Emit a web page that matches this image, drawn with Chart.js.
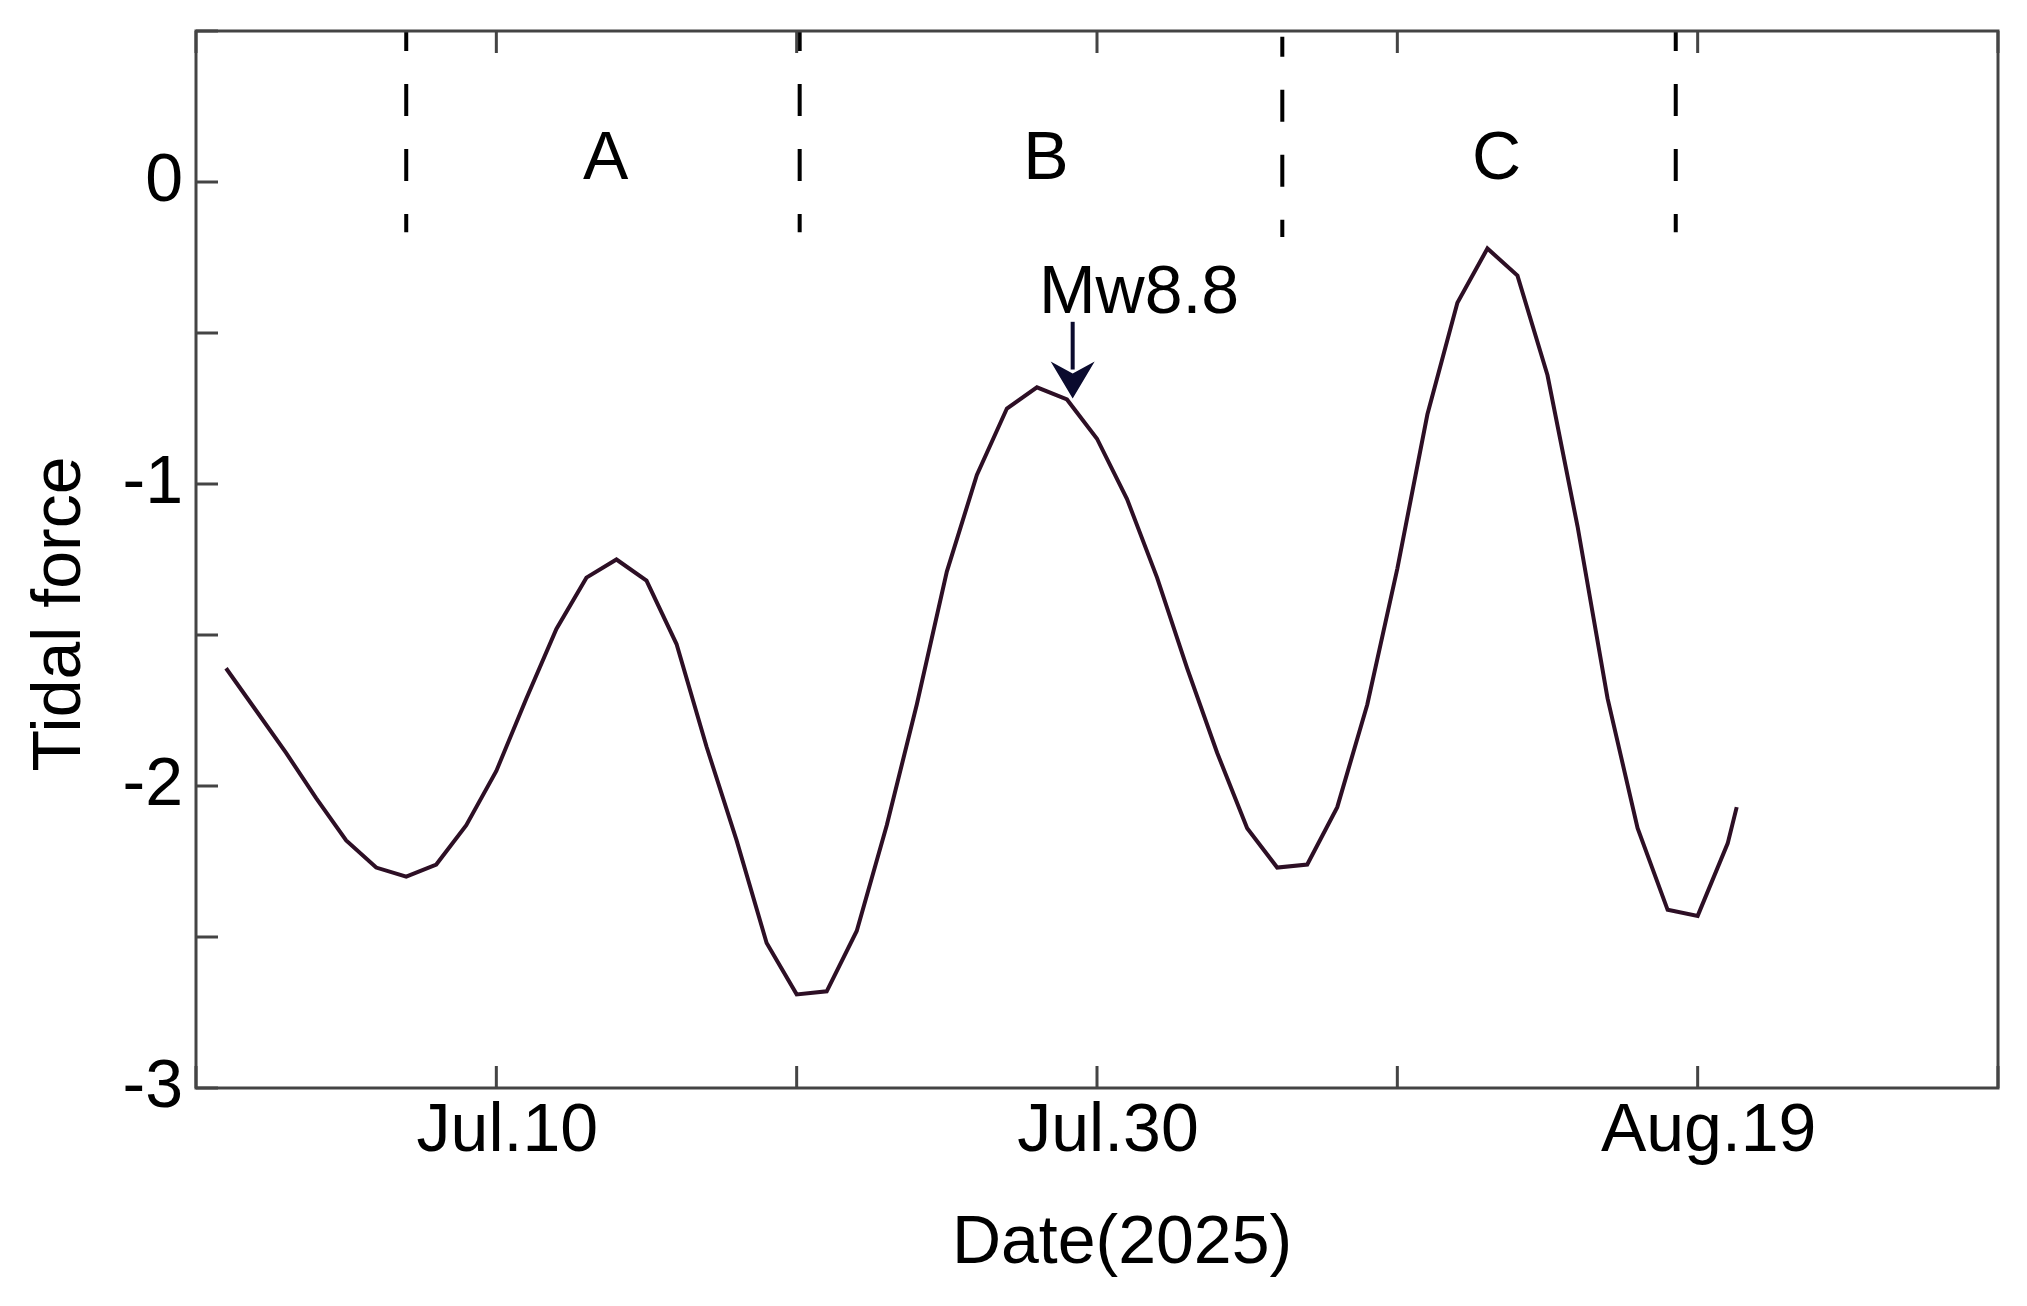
<!DOCTYPE html>
<html lang="en">

<head>
    <meta charset="UTF-8">
    <title>Tidal force, Jul-Aug 2025</title>
    <script src="https://cdn.jsdelivr.net/npm/chart.js"></script>
    <style>
        body {
            margin: 0;
            background: #ffffff;
            overflow: hidden;
        }

        #tideChart {
            display: block;
        }
    </style>
</head>

<body>
    <canvas id="tideChart" width="2027" height="1306"></canvas>

    <script>
        // day 0 = Jun.30, day 10 = Jul.10, day 50 = Aug.19
        const days = [1, 2, 3, 4, 5, 6, 7, 8, 9, 10,
            11, 12, 13, 14, 15, 16, 17, 18, 19, 20,
            21, 22, 23, 24, 25, 26, 27, 28, 29, 30,
            31, 32, 33, 34, 35, 36, 37, 38, 39, 40,
            41, 42, 43, 44, 45, 46, 47, 48, 49, 50,
            51, 51.3];
        const tidalForce = [-1.61, -1.75, -1.89, -2.04, -2.18, -2.27, -2.30, -2.26, -2.13, -1.95,
            -1.71, -1.48, -1.31, -1.25, -1.32, -1.53, -1.87, -2.18, -2.52, -2.69,
            -2.68, -2.48, -2.13, -1.73, -1.29, -0.97, -0.75, -0.68, -0.72, -0.85,
            -1.05, -1.31, -1.61, -1.89, -2.14, -2.27, -2.26, -2.07, -1.73, -1.28,
            -0.77, -0.40, -0.22, -0.31, -0.64, -1.14, -1.71, -2.14, -2.41, -2.43,
            -2.19, -2.07];

        const tickDays = [10, 30, 50];
        const tickLabels = ['Jul.10', 'Jul.30', 'Aug.19'];
        const yTickLabels = [0, -1, -2, -3];

        // dashed period boundaries
        const boundaryDays = [7.0, 20.1, 36.17, 49.27];
        const boundaryTop = [0.5, 0.5, 0.481, 0.5];
        const boundaryBottom = [-0.166, -0.166, -0.182, -0.166];

        const periodLabels = ['A', 'B', 'C'];
        const periodDays = [13.64, 28.3, 43.3];
        const periodBaseline = 0.011;

        const quakeText = 'Mw8.8';
        const quakeDay = 29.19;
        const quakeTextDay = 31.4;
        const quakeTextBaseline = -0.435;
        const arrowFrom = -0.463;
        const arrowTo = -0.717;

        const FONT = "'Liberation Sans', Arial, sans-serif";
        const AXIS_COLOR = '#444444';

        const boundarySets = boundaryDays.map((d, i) => ({
            data: [{ x: d, y: boundaryTop[i] }, { x: d, y: boundaryBottom[i] }],
            borderColor: '#000000',
            borderWidth: 4,
            borderDash: [32, 33],
            borderDashOffset: 12,
            pointRadius: 0,
            fill: false
        }));

        const framePlugin = {
            id: 'frame',
            afterDatasetsDraw(chart) {
                const { ctx, chartArea: a, scales: { x, y } } = chart;
                ctx.save();

                // period letters
                ctx.fillStyle = '#000000';
                ctx.font = `68px ${FONT}`;
                ctx.textAlign = 'center';
                ctx.textBaseline = 'alphabetic';
                periodLabels.forEach((t, i) => {
                    ctx.fillText(t, x.getPixelForValue(periodDays[i]), y.getPixelForValue(periodBaseline));
                });
                ctx.fillText(quakeText, x.getPixelForValue(quakeTextDay), y.getPixelForValue(quakeTextBaseline));

                // earthquake arrow
                const ax = x.getPixelForValue(quakeDay);
                const y0 = y.getPixelForValue(arrowFrom);
                const y1 = y.getPixelForValue(arrowTo);
                const headLen = 37, headHalf = 22;
                ctx.strokeStyle = '#0b0b2e';
                ctx.fillStyle = '#0b0b2e';
                ctx.lineWidth = 4;
                ctx.beginPath();
                ctx.moveTo(ax, y0);
                ctx.lineTo(ax, y1 - headLen + 8);
                ctx.stroke();
                ctx.beginPath();
                ctx.moveTo(ax, y1);
                ctx.lineTo(ax - headHalf, y1 - headLen);
                ctx.lineTo(ax, y1 - headLen + 12);
                ctx.lineTo(ax + headHalf, y1 - headLen);
                ctx.closePath();
                ctx.fill();

                // box and inward ticks
                ctx.strokeStyle = AXIS_COLOR;
                ctx.lineWidth = 3;
                ctx.strokeRect(a.left, a.top, a.right - a.left, a.bottom - a.top);
                ctx.beginPath();
                x.ticks.forEach(t => {
                    const px = x.getPixelForValue(t.value);
                    ctx.moveTo(px, a.bottom);
                    ctx.lineTo(px, a.bottom - 22);
                    ctx.moveTo(px, a.top);
                    ctx.lineTo(px, a.top + 22);
                });
                y.ticks.forEach(t => {
                    const py = y.getPixelForValue(t.value);
                    ctx.moveTo(a.left, py);
                    ctx.lineTo(a.left + 22, py);
                });
                ctx.stroke();

                // axis titles
                ctx.fillStyle = '#000000';
                ctx.font = `68px ${FONT}`;
                ctx.textAlign = 'center';
                ctx.textBaseline = 'alphabetic';
                ctx.fillText('Date(2025)', a.left + 926, 1263);
                ctx.translate(80, 614);
                ctx.rotate(-Math.PI / 2);
                ctx.fillText('Tidal force', 0, 0);
                ctx.restore();
            }
        };

        new Chart(document.getElementById('tideChart'), {
            type: 'line',
            data: {
                datasets: [{
                    data: days.map((d, i) => ({ x: d, y: tidalForce[i] })),
                    borderColor: '#2d0f25',
                    borderWidth: 4,
                    pointRadius: 0,
                    tension: 0,
                    fill: false
                }, ...boundarySets]
            },
            options: {
                responsive: false,
                animation: false,
                devicePixelRatio: 1,
                layout: { padding: { top: 31, right: 29, left: 0, bottom: 0 } },
                plugins: {
                    legend: { display: false },
                    tooltip: { enabled: false }
                },
                scales: {
                    x: {
                        type: 'linear',
                        min: 0,
                        max: 60,
                        afterFit: s => {
                            s.height = 218;
                            s.paddingLeft = 0;
                            s.paddingRight = 0;
                        },
                        border: { display: false },
                        grid: { display: false, drawTicks: false },
                        ticks: {
                            stepSize: 10,
                            autoSkip: false,
                            maxRotation: 0,
                            padding: 3,
                            labelOffset: 11,
                            color: '#000000',
                            font: { family: FONT, size: 68 },
                            callback: v => {
                                const i = tickDays.indexOf(v);
                                return i >= 0 ? tickLabels[i] : '';
                            }
                        }
                    },
                    y: {
                        min: -3,
                        max: 0.5,
                        afterFit: s => {
                            s.width = 196;
                            s.paddingTop = 0;
                            s.paddingBottom = 0;
                        },
                        border: { display: false },
                        grid: { display: false, drawTicks: false },
                        ticks: {
                            stepSize: 0.5,
                            autoSkip: false,
                            padding: 13,
                            color: '#000000',
                            font: { family: FONT, size: 68 },
                            callback: v => yTickLabels.includes(v) ? String(v) : ''
                        }
                    }
                }
            },
            plugins: [framePlugin]
        });
    </script>
</body>

</html>
